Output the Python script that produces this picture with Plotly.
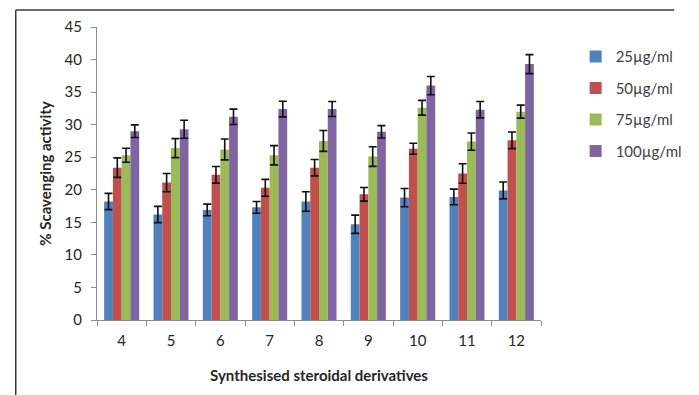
import plotly.graph_objects as go

# Compounds tested and scavenging activity (%) at each concentration
derivatives = ["4", "5", "6", "7", "8", "9", "10", "11", "12"]

conc_25 = [18.2, 16.2, 16.9, 17.3, 18.2, 14.7, 18.8, 18.9, 19.9]
conc_50 = [23.4, 21.1, 22.3, 20.3, 23.4, 19.3, 26.3, 22.5, 27.6]
conc_75 = [25.3, 26.4, 26.2, 25.3, 27.5, 25.1, 32.6, 27.4, 32.0]
conc_100 = [29.0, 29.3, 31.2, 32.4, 32.4, 28.9, 36.0, 32.3, 39.3]

err_25 = [1.25, 1.25, 0.9, 0.9, 1.5, 1.4, 1.4, 1.2, 1.3]
err_50 = [1.5, 1.4, 1.28, 1.3, 1.26, 1.05, 0.85, 1.5, 1.28]
err_75 = [1.07, 1.46, 1.6, 1.48, 1.6, 1.5, 1.13, 1.33, 1.0]
err_100 = [0.97, 1.38, 1.18, 1.2, 1.15, 0.95, 1.4, 1.25, 1.46]

series_names = ["25µg/ml", "50µg/ml", "75µg/ml", "100µg/ml"]
series_values = [conc_25, conc_50, conc_75, conc_100]
series_errors = [err_25, err_50, err_75, err_100]
series_colors = ["#4F81BD", "#C0504D", "#9BBB59", "#8064A2"]

FONT = "Lato"

fig = go.Figure()
for i, (name, vals, errs, col) in enumerate(zip(series_names, series_values, series_errors, series_colors)):
    fig.add_trace(go.Bar(
        x=derivatives, y=vals, name=name,
        marker=dict(color=col, line=dict(width=0)),
        error_y=dict(type="data", array=errs, visible=True,
                     color="#111111", thickness=1.6, width=4),
        legendgroup=f"g{i}",
    ))

fig.update_layout(
    width=699, height=395,
    margin=dict(l=97, r=132, t=27, b=75),
    paper_bgcolor="white", plot_bgcolor="white",
    barmode="group", bargap=0.29, bargroupgap=0,
    font=dict(family=FONT, size=15, color="#404040"),
    showlegend=True,
    legend=dict(
        x=1.078, y=0.955, xanchor="left", yanchor="top",
        font=dict(family=FONT, size=15, color="#404040"),
        traceorder="grouped", tracegroupgap=9,
        itemwidth=30, bgcolor="rgba(0,0,0,0)",
    ),
    xaxis=dict(
        type="category", showline=True, linecolor="#8c8c8c", linewidth=1,
        ticks="outside", tickson="boundaries", ticklen=5, tickcolor="#8c8c8c",
        showgrid=False, tickfont=dict(size=15, color="#262626"),
        ticklabelstandoff=7,
        title=dict(text="<b>Synthesised steroidal derivatives</b>",
                   font=dict(size=15, color="#262626"), standoff=22),
    ),
    yaxis=dict(
        range=[0, 45], dtick=5, showline=True, linecolor="#8c8c8c", linewidth=1,
        ticks="outside", ticklen=5, tickcolor="#8c8c8c",
        showgrid=False, zeroline=False, tickfont=dict(size=15, color="#262626"),
        ticklabelstandoff=6,
        title=dict(text="<b>% Scavenging activity</b>",
                   font=dict(size=15, color="#262626"), standoff=9),
    ),
    shapes=[
        dict(type="line", xref="paper", yref="paper",
             x0=-0.183, x1=1.3, y0=1.058, y1=1.058,
             line=dict(color="#3a3a3a", width=1.5)),
        dict(type="line", xref="paper", yref="paper",
             x0=-0.183, x1=-0.183, y0=1.058, y1=-0.3,
             line=dict(color="#3a3a3a", width=1.5)),
    ],
)

fig.write_html("out.html")
